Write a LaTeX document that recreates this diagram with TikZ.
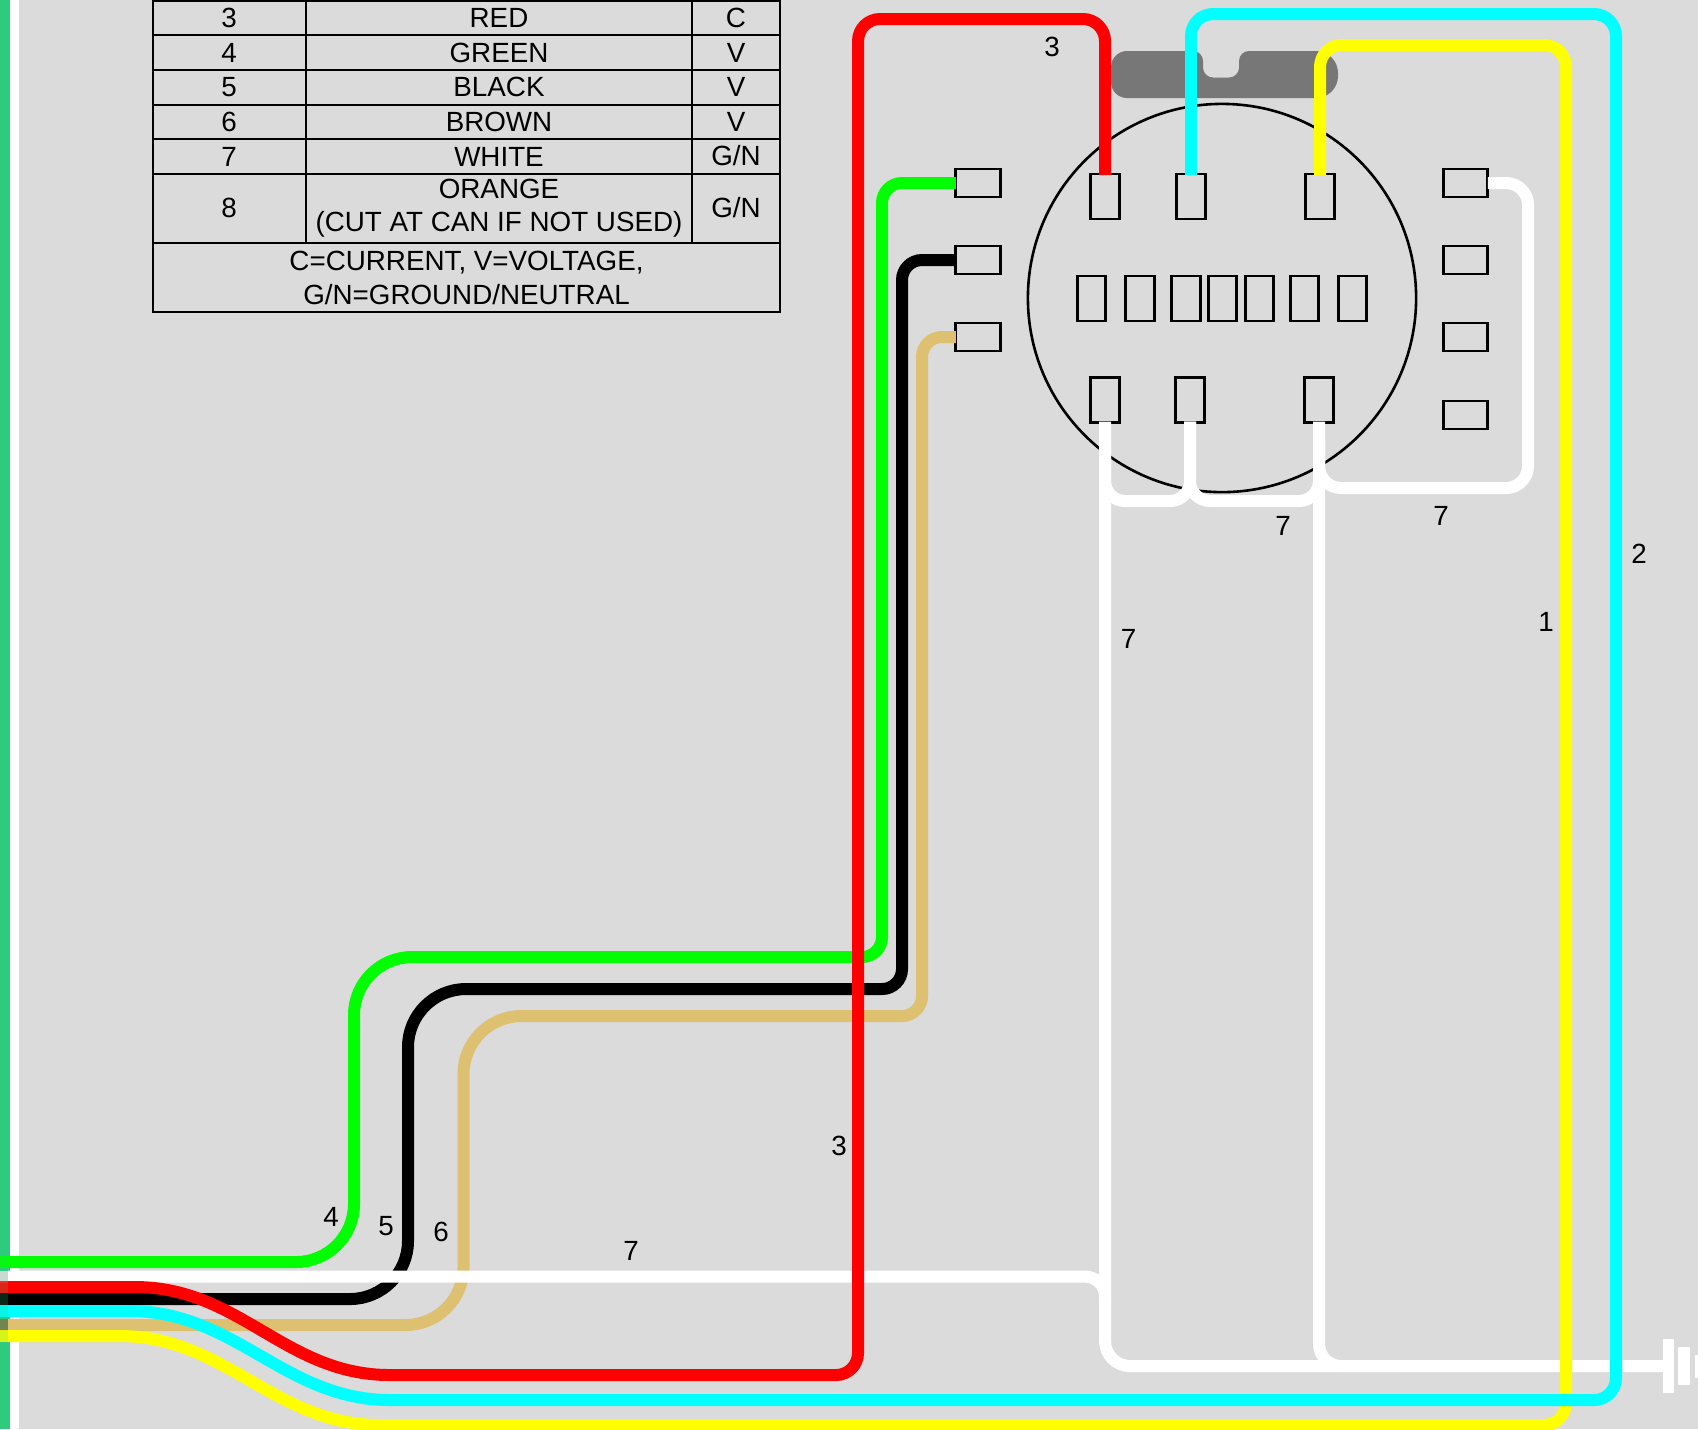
\documentclass[tikz,border=0pt]{standalone}
\usepackage{fontspec}
\setmainfont{Liberation Sans}
\definecolor{panelgray}{HTML}{DBDBDB}
\definecolor{stripgreen}{HTML}{2ECB7C}
\definecolor{bargray}{HTML}{777777}
\definecolor{wiretan}{HTML}{DEC170}
\definecolor{wirered}{HTML}{FF0000}
\definecolor{wiregreen}{HTML}{00FF00}
\definecolor{wirecyan}{HTML}{00FFFF}
\definecolor{wireyellow}{HTML}{FFFF00}
\tikzset{
	wire/.style={line width=0.12cm},
	pin/.style={draw,line width=0.026cm,inner sep=0,outer sep=0,minimum width=0.285cm,minimum height=0.45cm},
	tab/.style={draw,line width=0.026cm,inner sep=0,outer sep=0,minimum width=0.445cm,minimum height=0.28cm},
	gnd/.style={fill=white,inner sep=0,outer sep=0},
	label/.style={font=\fontsize{7.9}{9.5}\selectfont,align=center,inner sep=0},
	grid/.style={line width=0.02cm}
}
\begin{document}
\begin{tikzpicture}[x=0.01cm,y=-0.01cm]
		\useasboundingbox (0,0) rectangle (1698,1429);
		\fill[panelgray] (0,0) rectangle (1698,1429);
		\fill[stripgreen] (0,0) rectangle (10,1429);
		\fill[white] (10,0) rectangle (19,1429);
		
		\draw[grid] (152.5,1) rectangle (780,312);
		\draw[grid] (152.5,35) -- (780,35);
		\draw[grid] (152.5,70) -- (780,70);
		\draw[grid] (152.5,104.5) -- (780,104.5);
		\draw[grid] (152.5,139) -- (780,139);
		\draw[grid] (152.5,174) -- (780,174);
		\draw[grid] (152.5,243) -- (780,243);
		\draw[grid] (305.5,0) -- (305.5,243);
		\draw[grid] (692,0) -- (692,243);
		
		\node[label] (NumRed) at (229,18) {3};
		\node[label] (NameRed) at (499,18) {RED};
		\node[label] (UseRed) at (736,18) {C};
		\node[label] (NumGreen) at (229,53) {4};
		\node[label] (NameGreen) at (499,53) {GREEN};
		\node[label] (UseGreen) at (736,53) {V};
		\node[label] (NumBlack) at (229,87) {5};
		\node[label] (NameBlack) at (499,87) {BLACK};
		\node[label] (UseBlack) at (736,87) {V};
		\node[label] (NumBrown) at (229,122) {6};
		\node[label] (NameBrown) at (499,122) {BROWN};
		\node[label] (UseBrown) at (736,122) {V};
		\node[label] (NumWhite) at (229,156.5) {7};
		\node[label] (NameWhite) at (499,156.5) {WHITE};
		\node[label] (UseWhite) at (736,156) {G/N};
		\node[label] (NumOrange) at (229,208) {8};
		\node[label] (NameOrange) at (499,208) {ORANGE\\(CUT AT CAN IF NOT USED)};
		\node[label] (UseOrange) at (736,208) {G/N};
		\node[label] (Key) at (466.5,278) {C=CURRENT, V=VOLTAGE,\\G/N=GROUND/NEUTRAL};
		
		\fill[bargray,rounded corners=0.1cm] (1111,51) [rounded corners=0.1cm] -- (1203,51) -- (1203,77.5) -- (1239,77.5) -- (1239,51) [rounded corners=0.22cm] -- (1338,51) -- (1338,98) [rounded corners=0.16cm] -- (1111,98) -- cycle;
		\node[draw,circle,line width=0.026cm,inner sep=0,outer sep=0,minimum size=3.88cm] (Can) at (1222,298) {};
		
		\node[pin] (Pa) at (1105,196.5) {};
		\node[pin] (Pb) at (1191,196.5) {};
		\node[pin] (Pc) at (1320,196.5) {};
		\node[pin] (Ma) at (1091.5,298.5) {};
		\node[pin] (Mb) at (1140,298.5) {};
		\node[pin] (Mc) at (1186,298.5) {};
		\node[pin] (Md) at (1222.5,298.5) {};
		\node[pin] (Me) at (1259.5,298.5) {};
		\node[pin] (Mf) at (1304.5,298.5) {};
		\node[pin] (Mg) at (1352.5,298.5) {};
		\node[pin] (Ba) at (1105,400) {};
		\node[pin] (Bb) at (1190,400) {};
		\node[pin] (Bc) at (1319,400) {};
		
		\node[tab] (La) at (978,183) {};
		\node[tab] (Lb) at (978,260) {};
		\node[tab] (Lc) at (978,337) {};
		\node[tab] (Ra) at (1465.5,183) {};
		\node[tab] (Rb) at (1465.5,260) {};
		\node[tab] (Rc) at (1465.5,337) {};
		\node[tab] (Rd) at (1465.5,415) {};
		
		\node[gnd,minimum width=0.11cm,minimum height=0.54cm] (Ga) at (1668.5,1366) {};
		\node[gnd,minimum width=0.12cm,minimum height=0.38cm] (Gb) at (1684,1366) {};
		\node[gnd,minimum width=0.06cm,minimum height=0.23cm] (Gc) at (1698,1366) {};
		
		\coordinate (Gs) at (8,1262);
		\coordinate (Ws) at (8,1276.5);
		\coordinate (Rs) at (8,1287);
		\coordinate (Ks) at (8,1299);
		\coordinate (Cs) at (8,1311);
		\coordinate (Ts) at (8,1325);
		\coordinate (Ys) at (8,1336);
		
		\draw[wire,wiregreen,rounded corners=0.58cm] (Gs) -- (354,1262) -- (354,957) [rounded corners=0.2cm] -- (882,957) -- (882,183) -- (La.west);
		\draw[wire,black,rounded corners=0.58cm] (Ks) -- (408,1299) -- (408,989) [rounded corners=0.2cm] -- (902,989) -- (902,260) -- (Lb.west);
		\draw[wire,wiretan,rounded corners=0.58cm] (Ts) -- (463.5,1325) -- (463.5,1016) [rounded corners=0.2cm] -- (922,1016) -- (922,337) -- (Lc.west);
		
		\draw[wire,white,rounded corners=0.2cm] (Ws) -- (1105,1276.5) -- (1105,1305);
		\draw[wire,white,rounded corners=0.25cm] ([yshift=0.01cm]Ba.south) -- (1105,1366) -- (Ga.west);
		\draw[wire,white,rounded corners=0.22cm] ([yshift=0.01cm]Bc.south) -- (1319,1366) -- (1400,1366);
		\draw[wire,white,rounded corners=0.2cm] ([yshift=0.01cm]Bb.south) -- (1190,501) -- (1105,501) -- (1105,440);
		\draw[wire,white,rounded corners=0.2cm] ([yshift=0.01cm]Bb.south) -- (1190,501) -- (1319,501) -- (1319,440);
		\draw[wire,white,rounded corners=0.22cm] (Ra.east) -- (1528,183) -- (1528,488) -- (1319,488) -- (1319,440);
		
		\draw[wire,wireyellow] (Ys) -- (120,1336) .. controls (225,1336) and (275,1425) .. (380,1425) [rounded corners=0.22cm] -- (1566,1425) -- (1566,45) -- (1320,45) -- ([yshift=-0.01cm]Pc.north);
		\draw[wire,wirecyan] (Cs) -- (130,1311) .. controls (235,1311) and (285,1400) .. (390,1400) [rounded corners=0.22cm] -- (1616,1400) -- (1616,14) -- (1191,14) -- ([yshift=-0.01cm]Pb.north);
		\draw[wire,wirered] (Rs) -- (135,1287) .. controls (240,1287) and (285,1375) .. (390,1375) [rounded corners=0.22cm] -- (858,1375) -- (858,19) -- (1105,19) -- ([yshift=-0.01cm]Pa.north);
		
		\draw[wire,wiregreen,opacity=.8] (0,1262) -- (Gs);
		\draw[wire,panelgray,opacity=.9] (0,1276.5) -- (Ws);
		\draw[wire,wirered,opacity=.8] (0,1287) -- (Rs);
		\draw[wire,black,opacity=.8] (0,1299) -- (Ks);
		\draw[wire,wirecyan,opacity=.8] (0,1311) -- (Cs);
		\draw[wire,wiretan!60!black,opacity=.8] (0,1325) -- (Ts);
		\draw[wire,wireyellow,opacity=.8] (0,1336) -- (Ys);
		
		\node[label] (LbRedTop) at (1052,46.5) {3};
		\node[label] (LbCyan) at (1639,553.5) {2};
		\node[label] (LbYellow) at (1546,622) {1};
		\node[label] (LbWhiteA) at (1283,526) {7};
		\node[label] (LbWhiteB) at (1441,516) {7};
		\node[label] (LbWhiteC) at (1128.5,639) {7};
		\node[label] (LbRed) at (839,1146) {3};
		\node[label] (LbGreen) at (331,1217) {4};
		\node[label] (LbBlack) at (386,1226) {5};
		\node[label] (LbTan) at (441,1232) {6};
		\node[label] (LbWhite) at (631,1251) {7};
\end{tikzpicture}
\end{document}
